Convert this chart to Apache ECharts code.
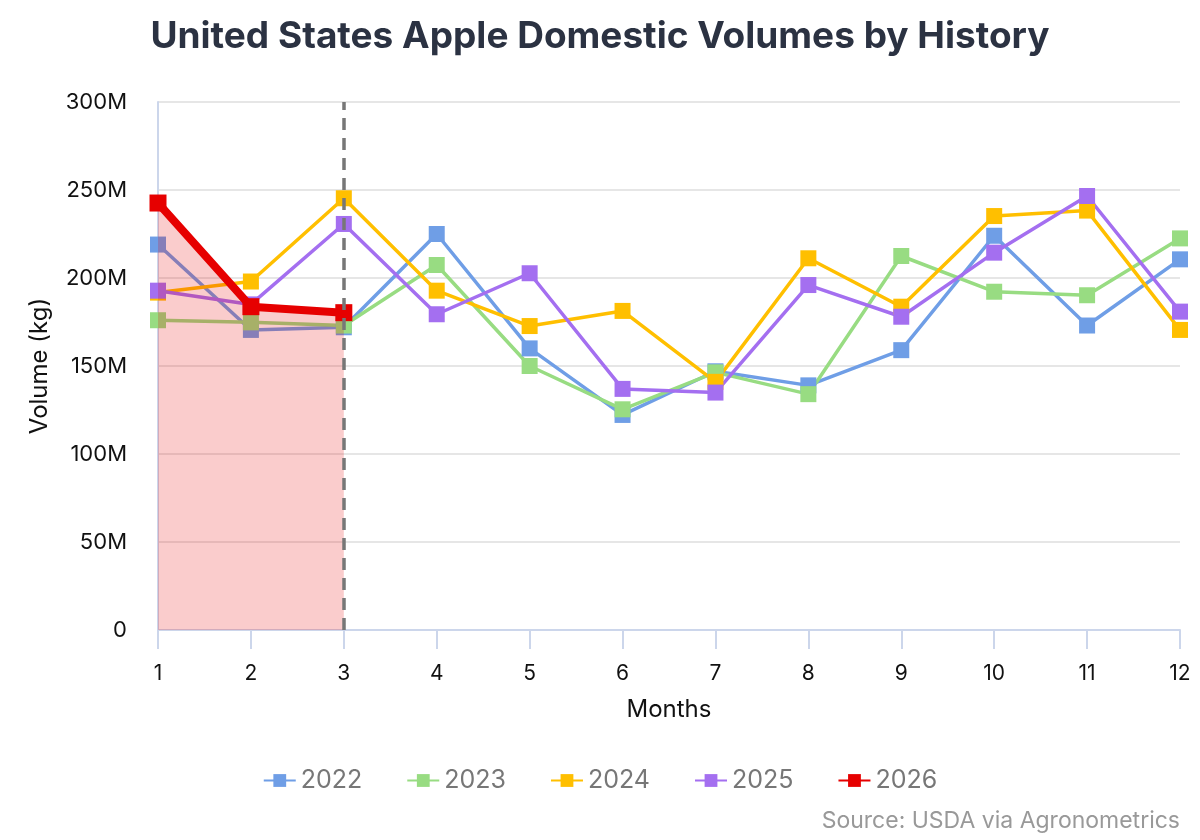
<!DOCTYPE html>
<html>
<head>
<meta charset="utf-8">
<script src="https://cdn.jsdelivr.net/npm/echarts@6/dist/echarts.min.js"></script>
<style>
html,body{margin:0;padding:0;background:#fff;}
#c{width:1200px;height:840px;}
</style>
</head>
<body>
<div id="c"></div>
<script>
const months = ['1','2','3','4','5','6','7','8','9','10','11','12'];
const v2022 = [219, 170.5, 172, 225, 160, 122.2, 147, 139, 159, 224, 173, 210.6];
const v2023 = [176, 174.8, 173, 207.4, 150, 125.4, 146.4, 134, 212.5, 192.2, 190.2, 222.5];
const v2024 = [191.7, 198, 245.3, 192.8, 172.7, 181.3, 141, 211.2, 183.7, 235.2, 238.3, 170.5];
const v2025 = [192.8, 185, 230.7, 179.4, 202.7, 137, 134.9, 196, 178, 214.4, 246.6, 180.9];
const v2026 = [242.6, 183.7, 180.3];
const seriesNames = ['2022','2023','2024','2025','2026'];
const colors = ['#6f9ee6','#98dc82','#ffbf00','#a46ff0','#e60000'];
const yTicks = ['0','50M','100M','150M','200M','250M','300M'];

const M = 1e6;
const toM = a => a.map(v => v * M);
const font = 'Inter, Liberation Sans, Arial, sans-serif';

function lineSeries(name, data, color) {
  return {
    name: name, type: 'line', data: toM(data),
    symbol: 'rect', symbolSize: 16,
    lineStyle: { width: 3.5, color: color },
    itemStyle: { color: color },
    z: 2
  };
}

const series = [
  lineSeries(seriesNames[0], v2022, colors[0]),
  lineSeries(seriesNames[1], v2023, colors[1]),
  lineSeries(seriesNames[2], v2024, colors[2]),
  lineSeries(seriesNames[3], v2025, colors[3]),
  {
    name: seriesNames[4], type: 'line', data: toM(v2026),
    symbol: 'rect', symbolSize: 17,
    lineStyle: { width: 8, color: colors[4] },
    itemStyle: { color: colors[4] },
    areaStyle: { color: '#e60000', opacity: 0.2 },
    z: 3,
    markLine: {
      silent: true, symbol: ['none','none'],
      label: { show: false },
      lineStyle: { color: '#777', type: [12, 8], width: 3.5 },
      data: [{ xAxis: '3' }]
    }
  }
];

const chart = echarts.init(document.getElementById('c'));
chart.setOption({
  animation: false,
  backgroundColor: '#fff',
  title: {
    text: 'United States Apple Domestic Volumes by History',
    left: 'center', top: 13,
    textStyle: { fontFamily: font, fontSize: 37, fontWeight: 'bold', color: '#2b3242' }
  },
  grid: { left: 158, right: 20, top: 102, bottom: 210 },
  legend: {
    bottom: 42, left: 'center',
    itemWidth: 32, itemHeight: 16, itemGap: 44,
    textStyle: { fontFamily: font, fontSize: 25, color: '#777' },
    data: seriesNames
  },
  graphic: [{
    type: 'text', right: 20, bottom: 7,
    style: { text: 'Source: USDA via Agronometrics', font: '23px ' + font, fill: '#999' }
  }],
  xAxis: {
    type: 'category', data: months, boundaryGap: false,
    name: 'Months', nameLocation: 'middle', nameGap: 68,
    nameTextStyle: { fontFamily: font, fontSize: 24, color: '#111' },
    axisLine: { lineStyle: { color: '#ccd6eb', width: 2 } },
    axisTick: { show: true, alignWithLabel: true, length: 19, lineStyle: { color: '#ccd6eb', width: 2 } },
    axisLabel: { fontFamily: font, fontSize: 21, color: '#111', margin: 33 },
    splitLine: { show: false }
  },
  yAxis: {
    type: 'value', min: 0, max: 300 * M, interval: 50 * M,
    name: 'Volume (kg)', nameLocation: 'middle', nameGap: 106, nameRotate: 90,
    nameTextStyle: { fontFamily: font, fontSize: 24, color: '#111' },
    axisLine: { show: true, lineStyle: { color: '#ccd6eb', width: 2 } },
    axisTick: { show: false },
    axisLabel: {
      fontFamily: font, fontSize: 22, color: '#111', margin: 31,
      formatter: v => yTicks[Math.round(v / (50 * M))]
    },
    splitLine: { lineStyle: { color: '#e6e6e6', width: 2 } }
  },
  series: series
});
</script>
</body>
</html>
